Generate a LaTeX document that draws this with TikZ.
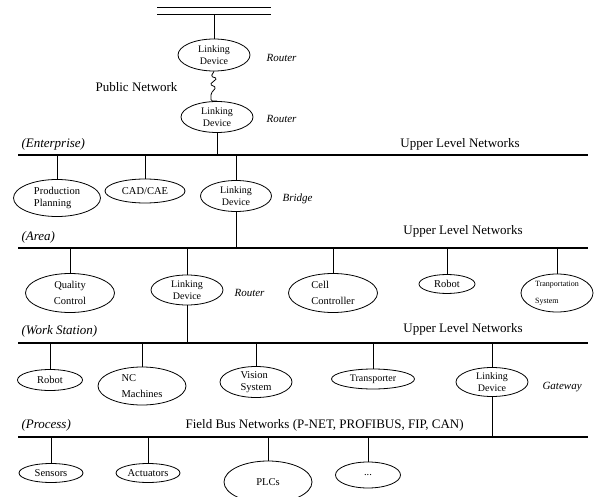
\documentclass[tikz,border=0pt]{standalone}
\usepackage{fontspec}
\setmainfont{Liberation Serif}
\usetikzlibrary{shapes.geometric}

\begin{document}
\begin{tikzpicture}[x=1pt, y=-1pt,
  dev/.style={draw, ellipse, line width=0.8pt, inner sep=0pt, align=center,
    font=\fontsize{10}{12}\selectfont},
  wide/.style={font=\fontsize{10.5}{16}\selectfont},
  net/.style={font=\fontsize{13}{15}\selectfont},
  role/.style={anchor=west, font=\fontsize{11}{13}\selectfont\itshape},
  lvl/.style={anchor=west, font=\fontsize{13}{15}\selectfont\itshape},
  bus/.style={line width=2pt},
  wire/.style={line width=0.8pt}]

  \clip (0, 0) rectangle (594, 497);

  \coordinate (t1) at (157, 7);
  \coordinate (t2) at (271, 7);
  \coordinate (t3) at (157, 14);
  \coordinate (t4) at (271, 14);
  \coordinate (e1) at (18, 155);
  \coordinate (e2) at (588, 155);
  \coordinate (a1) at (18, 248);
  \coordinate (a2) at (588, 248);
  \coordinate (w1) at (18, 343);
  \coordinate (w2) at (588, 343);
  \coordinate (p1) at (18, 437);
  \coordinate (p2) at (588, 437);

  \node[dev, minimum width=72pt, minimum height=32pt] (r1) at (214, 55) {Linking\\Device};
  \node[dev, minimum width=72pt, minimum height=31pt] (r2) at (217, 117) {Linking\\Device};
  \node[role] (l1) at (263, 58) {Router};
  \node[role] (l2) at (263, 119) {Router};
  \node[net, anchor=west] (pn) at (92, 87) {Public Network};

  \node[lvl] (ent) at (18, 144) {(Enterprise)};
  \node[net] (u1) at (460, 144) {Upper Level Networks};
  \node[dev, font=\fontsize{10.5}{12}\selectfont, align=left, minimum width=87pt, minimum height=37pt] (pp) at (57, 198) {Production\\Planning};
  \node[dev, wide, minimum width=80pt, minimum height=24pt] (cad) at (145, 191) {CAD/CAE};
  \node[dev, minimum width=71pt, minimum height=31pt] (br) at (236, 196) {Linking\\Device};
  \node[role] (l3) at (279, 199) {Bridge};

  \node[lvl] (area) at (18, 237) {(Area)};
  \node[net] (u2) at (463, 231) {Upper Level Networks};
  \node[dev, wide, minimum width=89pt, minimum height=39pt] (qc) at (70, 293) {Quality\\Control};
  \node[dev, minimum width=72pt, minimum height=30pt] (r3) at (187, 290) {Linking\\Device};
  \node[role] (l4) at (231, 293) {Router};
  \node[dev, wide, align=left, minimum width=89pt, minimum height=39pt] (cc) at (333, 293) {Cell\\Controller};
  \node[dev, wide, minimum width=56pt, minimum height=19pt] (rb) at (447, 284) {Robot};
  \node[dev, font=\fontsize{8}{17}\selectfont, align=left, minimum width=72pt, minimum height=38pt] (ts) at (557, 293) {Tranportation\\System};

  \node[lvl] (ws) at (18, 331) {(Work Station)};
  \node[net] (u3) at (463, 329) {Upper Level Networks};
  \node[dev, wide, minimum width=65pt, minimum height=21pt] (wr) at (50, 380) {Robot};
  \node[dev, wide, align=left, minimum width=88pt, minimum height=38pt] (nc) at (142, 386) {NC\\Machines};
  \node[dev, font=\fontsize{10.5}{12}\selectfont, align=left, minimum width=72pt, minimum height=31pt] (vs) at (256, 382) {Vision\\System};
  \node[dev, minimum width=83pt, minimum height=20pt] (tp) at (373, 379) {Transporter};
  \node[dev, minimum width=72pt, minimum height=29pt] (gw) at (492, 382) {Linking\\Device};
  \node[role] (l5) at (539, 387) {Gateway};

  \node[lvl] (proc) at (18, 425) {(Process)};
  \node[net, anchor=west] (fb) at (182, 425) {Field Bus Networks (P-NET, PROFIBUS, FIP, CAN)};
  \node[dev, wide, minimum width=64pt, minimum height=19pt] (se) at (51, 473) {Sensors};
  \node[dev, wide, minimum width=64pt, minimum height=19pt] (ac) at (148, 473) {Actuators};
  \node[dev, wide, minimum width=88pt, minimum height=42pt] (plc) at (268, 482) {PLCs};
  \node[dev, wide, minimum width=65pt, minimum height=26pt] (dt) at (368, 475) {...};

  \draw [wire] (t1) to (t2);
  \draw [wire] (t3) to (t4);
  \draw [bus] (e1) to (e2);
  \draw [bus] (a1) to (a2);
  \draw [bus] (w1) to (w2);
  \draw [bus] (p1) to (p2);

  \draw [wire] (r1.north) to (r1.north |- t3);
  \draw [wire, rounded corners=1.5pt] (r1.south) -- ++(-3, 5) -- ++(6, 2) -- ++(-7, 6) -- ++(6, 3) -- ++(-5, 6) |- (r2.north);
  \draw [wire] (r2.south) to (r2.south |- e1);

  \draw [wire] (pp.north) to (pp.north |- e1);
  \draw [wire] (cad.north) to (cad.north |- e1);
  \draw [wire] (br.north) to (br.north |- e1);
  \draw [wire] (br.south) to (br.south |- a1);

  \draw [wire] (qc.north) to (qc.north |- a1);
  \draw [wire] (r3.north) to (r3.north |- a1);
  \draw [wire] (cc.north) to (cc.north |- a1);
  \draw [wire] (rb.north) to (rb.north |- a1);
  \draw [wire] (ts.north) to (ts.north |- a1);
  \draw [wire] (r3.south) to (r3.south |- w1);

  \draw [wire] (wr.north) to (wr.north |- w1);
  \draw [wire] (nc.north) to (nc.north |- w1);
  \draw [wire] (vs.north) to (vs.north |- w1);
  \draw [wire] (tp.north) to (tp.north |- w1);
  \draw [wire] (gw.north) to (gw.north |- w1);
  \draw [wire] (gw.south) to (gw.south |- p1);

  \draw [wire] (se.north) to (se.north |- p1);
  \draw [wire] (ac.north) to (ac.north |- p1);
  \draw [wire] (plc.north) to (plc.north |- p1);
  \draw [wire] (dt.north) to (dt.north |- p1);

\end{tikzpicture}
\end{document}
